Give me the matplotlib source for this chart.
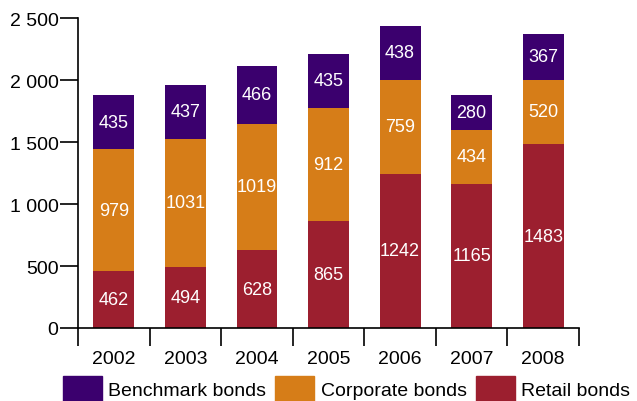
import matplotlib
matplotlib.use("Agg")
import matplotlib.pyplot as plt
from matplotlib.patches import Patch
import numpy as np

plt.rcParams['font.family'] = ['Liberation Sans', 'DejaVu Sans']

years = ["2002", "2003", "2004", "2005", "2006", "2007", "2008"]
retail = [462, 494, 628, 865, 1242, 1165, 1483]
corporate = [979, 1031, 1019, 912, 759, 434, 520]
benchmark = [435, 437, 466, 435, 438, 280, 367]
yticks = [0, 500, 1000, 1500, 2000, 2500]
ytick_labels = ["0", "500", "1 000", "1 500", "2 000", "2 500"]

c_bench = "#3B006E"
c_corp = "#D67D18"
c_retail = "#9C1F2F"

fig = plt.figure(figsize=(6.37, 4.02), dpi=100)
ax = fig.add_axes([0.1225, 0.1816, 0.7865, 0.7711])

x = np.arange(len(years))
w = 0.57
retail_a = np.array(retail)
corp_a = np.array(corporate)
bench_a = np.array(benchmark)

ax.bar(x, retail_a, w, color=c_retail)
ax.bar(x, corp_a, w, bottom=retail_a, color=c_corp)
ax.bar(x, bench_a, w, bottom=retail_a + corp_a, color=c_bench)

fs_val = 13
for i in range(len(years)):
    ax.text(x[i], retail_a[i] / 2, str(retail[i]), ha='center', va='center', color='white', fontsize=fs_val)
    ax.text(x[i], retail_a[i] + corp_a[i] / 2, str(corporate[i]), ha='center', va='center', color='white', fontsize=fs_val)
    ax.text(x[i], retail_a[i] + corp_a[i] + bench_a[i] / 2, str(benchmark[i]), ha='center', va='center', color='white', fontsize=fs_val)

ax.set_xlim(-0.5, len(years) - 0.5)
ax.set_ylim(0, 2500)
ax.set_yticks(yticks)
ax.set_yticklabels(ytick_labels, fontsize=14)
ax.set_xticks(x)
ax.set_xticklabels(years, fontsize=14)
ax.set_xticks(np.arange(len(years) + 1) - 0.5, minor=True)
ax.tick_params(axis='x', which='major', length=0, pad=16)
ax.tick_params(axis='x', which='minor', length=13, width=1.2, direction='out')
ax.tick_params(axis='y', length=13, width=1.2, direction='out', pad=1)
for s in ['top', 'right']:
    ax.spines[s].set_visible(False)
for s in ['left', 'bottom']:
    ax.spines[s].set_linewidth(1.2)

handles = [Patch(color=c_bench), Patch(color=c_corp), Patch(color=c_retail)]
fig.legend(handles, ["Benchmark bonds", "Corporate bonds", "Retail bonds"],
           loc='center', bbox_to_anchor=(0.544, 0.032), ncol=3, frameon=False,
           fontsize=14, handlelength=2.0, handleheight=1.6, columnspacing=0.45, handletextpad=0.35,
           borderaxespad=0.0, borderpad=0.0)

fig.savefig("out.png", dpi=100)
